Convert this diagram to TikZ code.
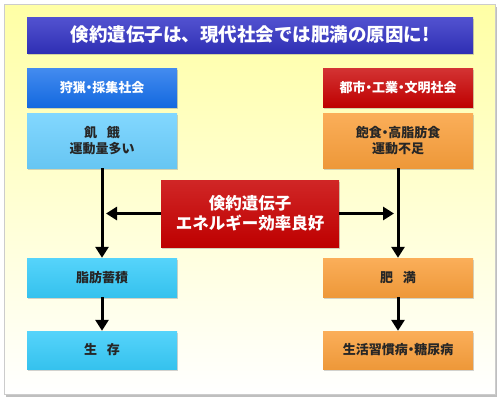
\documentclass[tikz,border=0pt]{standalone}
\usepackage{fontspec}
\setmainfont{Noto Sans CJK JP}
\usetikzlibrary{shadows,arrows.meta}
\definecolor{titleblue}{RGB}{52,52,200}
\definecolor{hdrblue}{RGB}{20,110,235}
\definecolor{hdrred}{RGB}{200,0,0}
\definecolor{lblue}{RGB}{108,208,255}
\definecolor{mblue}{RGB}{56,204,250}
\definecolor{lorange}{RGB}{250,160,60}
\definecolor{txtdark}{RGB}{38,38,38}
\definecolor{panelyellow}{RGB}{255,255,165}
\newcommand{\nd}{\kern-0.25em・\kern-0.25em}
\tikzset{
  boxbase/.style={rectangle, inner sep=0pt, align=center, font=\bfseries\fontsize{13}{16}\selectfont,
    drop shadow={opacity=0.35, shadow xshift=1pt, shadow yshift=-1.5pt}},
  titlebox/.style={boxbase, minimum width=446pt, minimum height=36pt, top color=titleblue!85!white, bottom color=titleblue!90!black, text=white,
    font=\bfseries\fontsize{18.5}{22}\selectfont},
  hdrbox/.style={boxbase, minimum width=150pt, minimum height=39pt, text=white},
  lbox/.style={boxbase, minimum width=150pt, text=txtdark},
  centerbox/.style={boxbase, minimum width=178pt, minimum height=67pt, top color=hdrred!85!white, bottom color=hdrred!95!black, text=white,
    font=\bfseries\fontsize{16.5}{20}\selectfont},
  arr/.style={line width=3pt, -{Triangle[width=13pt,length=11pt]}}
}
\begin{document}
\begin{tikzpicture}[x=1pt,y=-1pt]
\useasboundingbox (0,0) rectangle (500,402);
\fill[black!25] (6,7) rectangle (497,397);
\shade[top color=panelyellow, bottom color=white, draw=black!20, line width=0.5pt] (4,4) rectangle (495,394);

\node[titlebox] (title) at (250,35) {倹約遺伝子は、現代社会では肥満の原因に!};

\node[hdrbox, top color=hdrblue!80!white, bottom color=hdrblue!95!black] (lh) at (102,88) {狩猟\nd 採集社会};
\node[hdrbox, top color=hdrred!80!white, bottom color=hdrred!95!black] (rh) at (398,88) {都市\nd 工業\nd 文明社会};

\node[lbox, minimum height=55pt, top color=lblue!85!white, bottom color=lblue!95!black] (l2) at (102,140.5) {飢\hspace{0.75em}餓\\運動量多い};
\node[lbox, minimum height=55pt, top color=lorange!85!white, bottom color=lorange!95!black] (r2) at (398,140.5) {飽食\nd 高脂肪食\\運動不足};

\node[centerbox] (c) at (250,213.5) {倹約遺伝子\\エネルギー効率良好};

\node[lbox, minimum height=39pt, top color=mblue!85!white, bottom color=mblue!95!black] (l3) at (102,277.5) {脂肪蓄積};
\node[lbox, minimum height=39pt, top color=lorange!85!white, bottom color=lorange!95!black] (r3) at (398,277.5) {肥\hspace{0.75em}満};

\node[lbox, minimum height=38pt, top color=mblue!85!white, bottom color=mblue!95!black] (l4) at (102,350) {生\hspace{0.75em}存};
\node[lbox, minimum height=38pt, top color=lorange!85!white, bottom color=lorange!95!black] (r4) at (398,350) {生活習慣病\nd 糖尿病};

\coordinate (lj) at (l2.south |- c.west);
\coordinate (rj) at (r2.south |- c.east);

\draw[arr] (l2.south) -- (l3.north);
\draw[arr] (r2.south) -- (r3.north);
\draw[arr] (l3.south) -- (l4.north);
\draw[arr] (r3.south) -- (r4.north);
\draw[arr, shorten >=4pt] (c.west) -- (lj);
\draw[arr, shorten >=4pt] (c.east) -- (rj);
\end{tikzpicture}
\end{document}
